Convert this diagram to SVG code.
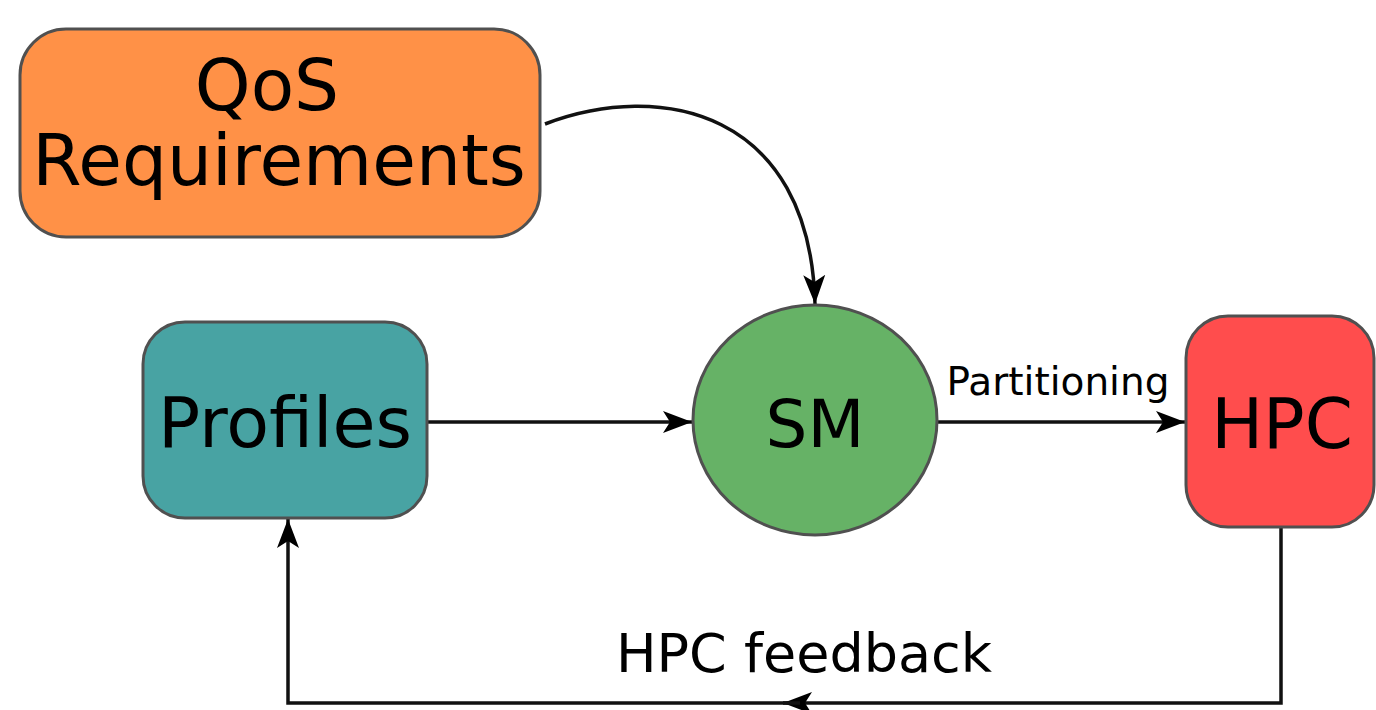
<svg xmlns="http://www.w3.org/2000/svg" width="1376" height="710" viewBox="0 0 1376 710">
  <style>
    .node { stroke: #505050; stroke-width: 3; }
    .label { font-family: "DejaVu Sans", "Liberation Sans", sans-serif; fill: #000; text-anchor: middle; }
    .edge { fill: none; stroke: #111; stroke-width: 3.5; }
  </style>
  <defs>
    <marker id="arrow" markerUnits="userSpaceOnUse" markerWidth="32" markerHeight="24" viewBox="0 0 32 24" refX="29" refY="12" orient="auto">
      <path d="M0,1 L29,12 L0,23 L7,12 Z" fill="#000"/>
    </marker>
  </defs>
  <rect width="1376" height="710" fill="#fff"/>

  <g id="connectors">
    <path class="edge" d="M545,124 C660,80 810,110 815,304" marker-end="url(#arrow)"/>
    <path class="edge" d="M427,422 L692,422" marker-end="url(#arrow)"/>
    <path class="edge" d="M938,422 L1185,422" marker-end="url(#arrow)"/>
    <path class="edge" d="M1281,527 L1281,703 L783,703" marker-end="url(#arrow)"/>
    <path class="edge" d="M800,703 L288,703 L288,519" marker-end="url(#arrow)"/>
    <text class="label" x="1058" y="395" font-size="39">Partitioning</text>
    <text class="label" x="804" y="672" font-size="54">HPC feedback</text>
  </g>

  <g id="qos">
    <rect class="node" x="20" y="29" width="520" height="208" rx="46" fill="#FF9147"/>
    <text class="label" x="267" y="110" font-size="71">QoS</text>
    <text class="label" x="279" y="185" font-size="71">Requirements</text>
  </g>

  <g id="profiles">
    <rect class="node" x="143" y="322" width="284" height="196" rx="42" fill="#48A3A3"/>
    <text class="label" x="285" y="447" font-size="70">Profiles</text>
  </g>

  <g id="sm">
    <ellipse class="node" cx="815" cy="420" rx="122" ry="115" fill="#66B266"/>
    <text class="label" x="815" y="447" font-size="66">SM</text>
  </g>

  <g id="hpc">
    <rect class="node" x="1186" y="316" width="188" height="211" rx="42" fill="#FF4D4D"/>
    <text class="label" x="1282" y="448" font-size="69">HPC</text>
  </g>
</svg>
